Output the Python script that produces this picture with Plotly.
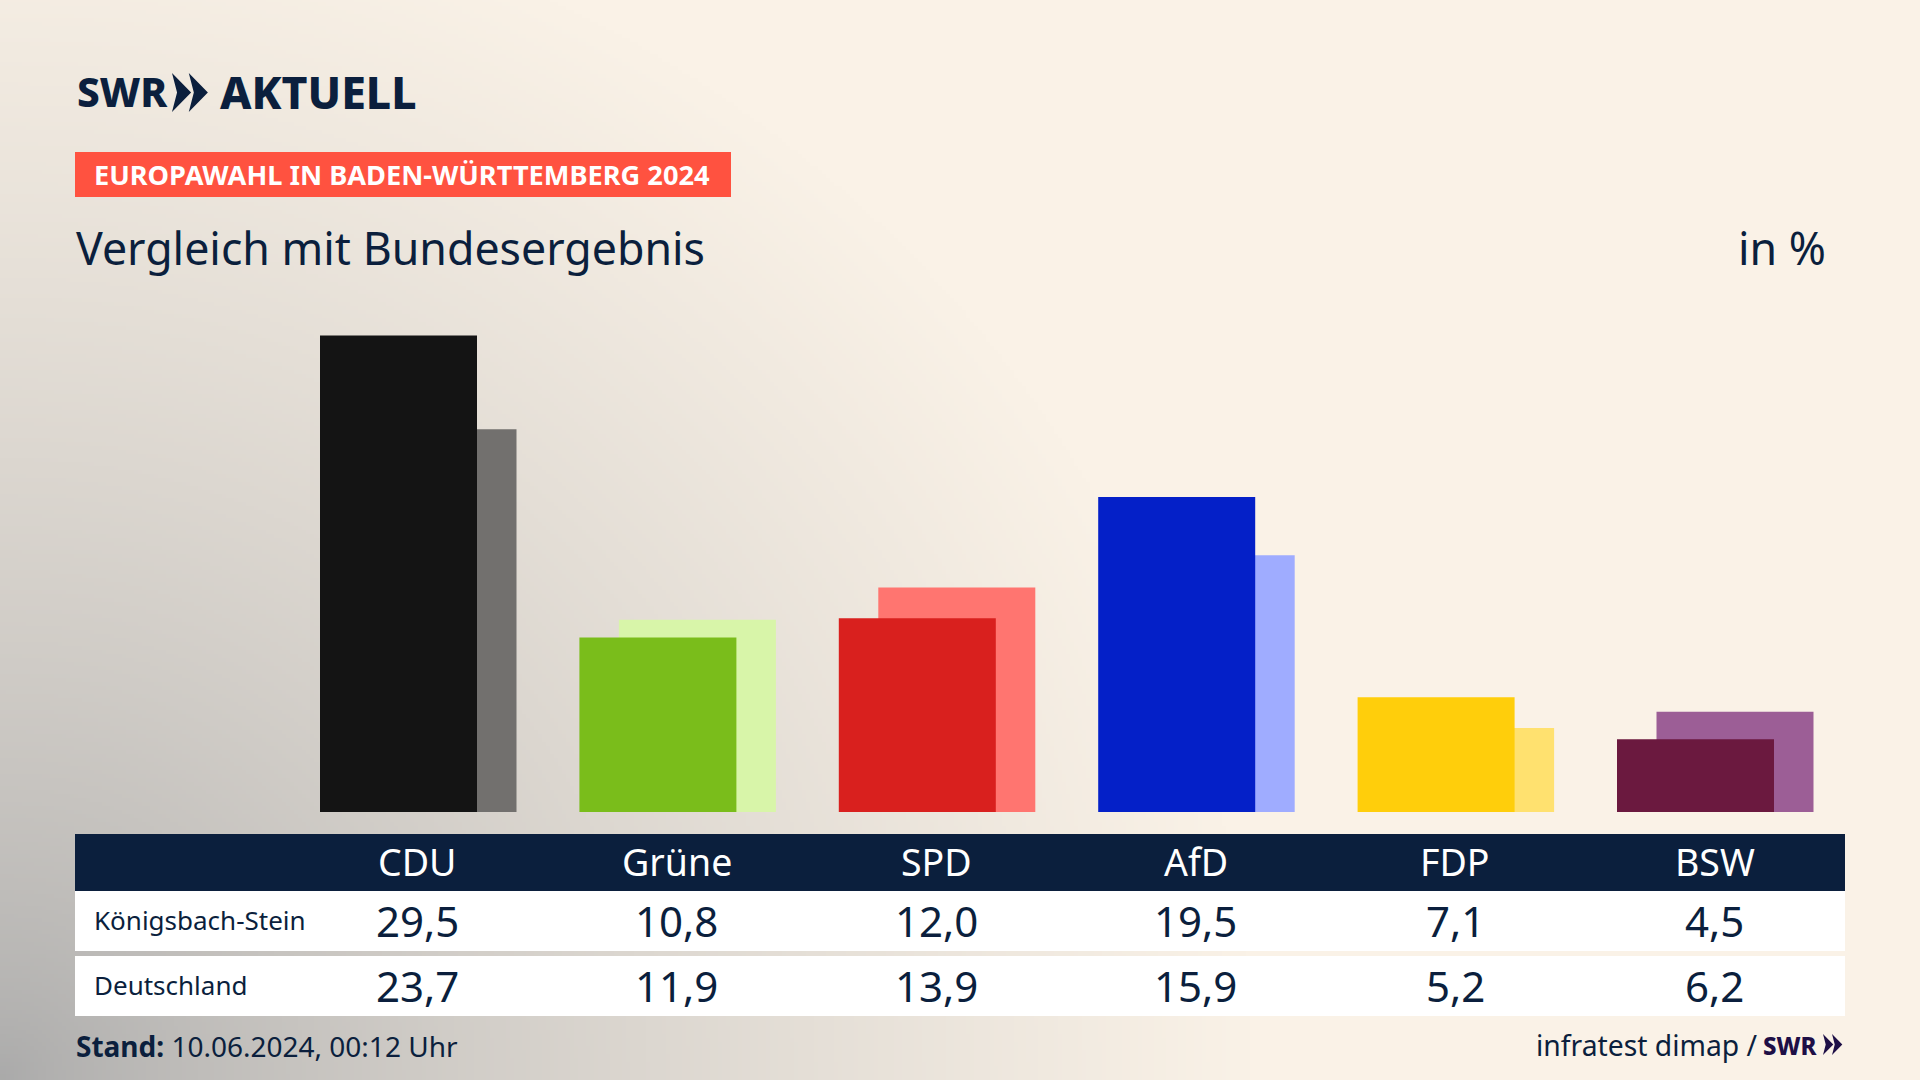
import base64
import struct
import zlib

import numpy as np
import plotly.graph_objects as go

parties = ["CDU", "Grüne", "SPD", "AfD", "FDP", "BSW"]
koenigsbach = [29.5, 10.8, 12.0, 19.5, 7.1, 4.5]
deutschland = [23.7, 11.9, 13.9, 15.9, 5.2, 6.2]
front_colors = ["#141414", "#7ABD1B", "#D9201E", "#0420C8", "#FFCE0B", "#6B193F"]
back_colors = ["#72706E", "#D8F5A9", "#FF7570", "#9FACFF", "#FFE16F", "#9C5E96"]

NAVY = "#0B1F3D"
FONT = "Noto Sans"
W, H = 1920, 1080
BASE_Y = 812
PX_PER_UNIT = 16.15
GROUP_X = 417.5
GROUP_STEP = 259.4


def px(x):
    return x / W


def py(y):
    return 1 - y / H


def background():
    # soft grey glow out of the bottom left corner, as a small png
    w, h = 480, 270
    xx, yy = np.meshgrid((np.arange(w) + 0.5) * W / w, (np.arange(h) + 0.5) * H / h)
    r = np.sqrt((xx / 1250) ** 2 + ((H - yy) / 1200) ** 2)
    t = np.clip(r, 0, 1) ** 0.7
    start = np.array([169, 169, 169])
    end = np.array([250, 242, 231])
    rgb = (start + (end - start) * t[..., None]).astype(np.uint8)
    raw = b"".join(b"\x00" + row.tobytes() for row in rgb)

    def chunk(tag, data):
        crc = zlib.crc32(tag + data) & 0xFFFFFFFF
        return struct.pack(">I", len(data)) + tag + data + struct.pack(">I", crc)

    png = b"\x89PNG\r\n\x1a\n"
    png += chunk(b"IHDR", struct.pack(">IIBBBBB", w, h, 8, 2, 0, 0, 0))
    png += chunk(b"IDAT", zlib.compress(raw))
    png += chunk(b"IEND", b"")
    return "data:image/png;base64," + base64.b64encode(png).decode()


def rect(x0, y0, x1, y1, color):
    return dict(type="rect", xref="paper", yref="paper", x0=px(x0), x1=px(x1),
                y0=py(y1), y1=py(y0), fillcolor=color, line_width=0, layer="below")


def chevrons(x, y, size, color):
    # two arrows of the SWR logo, size is the height in pixels
    shapes = []
    for step in [0, 0.43]:
        x0 = x + step * size
        pts = [(x0, y), (x0 + 0.49 * size, y + 0.5 * size), (x0, y + size),
               (x0 + 0.13 * size, y + 0.5 * size)]
        path = "M " + " L ".join(f"{px(a):.5f},{py(b):.5f}" for a, b in pts) + " Z"
        shapes.append(dict(type="path", xref="paper", yref="paper", path=path,
                           fillcolor=color, line_width=0))
    return shapes


def label(text, x, y, size, color=NAVY, anchor="left", weight=None, xref="paper"):
    font = dict(family=FONT, size=size, color=color)
    if weight:
        font["weight"] = weight
    return dict(text=text, xref=xref, yref="paper", x=px(x) if xref == "paper" else x,
                y=py(y), xanchor=anchor, yanchor="middle", showarrow=False, font=font)


fig = go.Figure()
bar_width = 157 / GROUP_STEP
fig.add_trace(go.Bar(x=parties, y=deutschland, name="Deutschland", width=bar_width,
                     offset=-58 / GROUP_STEP, marker=dict(color=back_colors, line_width=0)))
fig.add_trace(go.Bar(x=parties, y=koenigsbach, name="Königsbach-Stein", width=bar_width,
                     offset=-97.5 / GROUP_STEP, marker=dict(color=front_colors, line_width=0)))

shapes = [
    rect(75, 152, 731, 197, "#FF5240"),
    rect(75, 834, 1845, 891, NAVY),
    rect(75, 891, 1845, 951, "white"),
    rect(75, 956, 1845, 1016, "white"),
]
shapes += chevrons(172, 73, 39, NAVY)
shapes += chevrons(1823, 1034, 21, "#1E0F46")

annotations = [
    label("SWR", 75, 91, 40.5, weight=800),
    label("AKTUELL", 218, 91, 44.5, weight=800),
    label("<b>EUROPAWAHL IN BADEN-WÜRTTEMBERG 2024</b>", 92, 175, 27.2, color="white"),
    label("Vergleich mit Bundesergebnis", 74, 247, 44.7),
    label("in %", 1828, 247, 44.7, anchor="right"),
    label("Königsbach-Stein", 92, 920, 26),
    label("Deutschland", 92, 985, 26),
    label("<b>Stand:</b> 10.06.2024, 00:12 Uhr", 74, 1046, 28),
    label("infratest dimap /", 1760, 1045, 28.3, anchor="right"),
    label("SWR", 1820, 1045, 24, color="#1E0F46", anchor="right", weight=800),
]
for party, a, b in zip(parties, koenigsbach, deutschland):
    annotations.append(label(party, party, 861, 37.5, color="white", anchor="center", xref="x"))
    annotations.append(label(f"{a:.1f}".replace(".", ","), party, 920, 42, anchor="center", xref="x"))
    annotations.append(label(f"{b:.1f}".replace(".", ","), party, 985, 42, anchor="center", xref="x"))

fig.update_layout(
    width=W, height=H,
    margin=dict(l=0, r=0, t=0, b=0),
    barmode="overlay",
    showlegend=False,
    paper_bgcolor="#FAF2E7",
    plot_bgcolor="rgba(0,0,0,0)",
    shapes=shapes,
    annotations=annotations,
    images=[dict(source=background(), xref="paper", yref="paper", x=0, y=1, sizex=1, sizey=1,
                 xanchor="left", yanchor="top", sizing="stretch", layer="below")],
    xaxis=dict(type="category", categoryorder="array", categoryarray=parties, visible=False,
               range=[-GROUP_X / GROUP_STEP, (W - GROUP_X) / GROUP_STEP]),
    yaxis=dict(visible=False, range=[(BASE_Y - H) / PX_PER_UNIT, BASE_Y / PX_PER_UNIT]),
)

fig.write_html("out.html", config=dict(displayModeBar=False),
               post_script="document.body.style.margin='0';")
